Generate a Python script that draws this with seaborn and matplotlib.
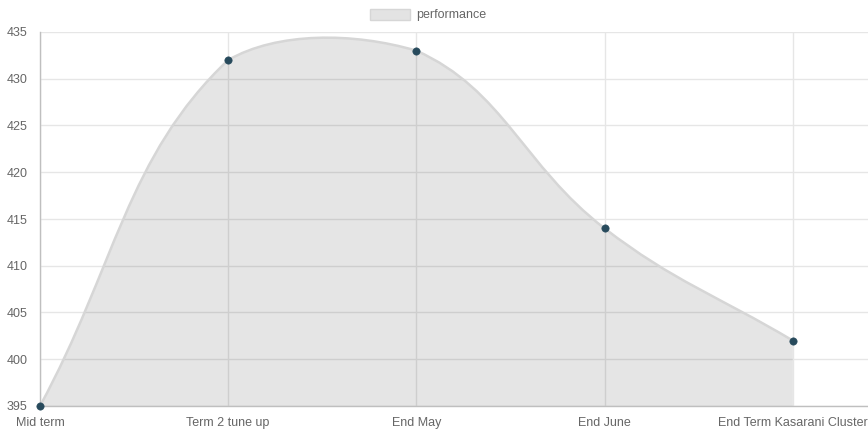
import numpy as np
import matplotlib
matplotlib.use("Agg")
import matplotlib.pyplot as plt
import seaborn as sns
from matplotlib.path import Path
from matplotlib.patches import PathPatch, Patch

labels = ["Mid term", "Term 2 tune up", "End May", "End June", "End Term Kasarani Cluster"]
performance = [395, 432, 433, 414, 402]

sns.set_theme(style="white")
plt.rcParams['font.family'] = ['Liberation Sans', 'DejaVu Sans']

fig = plt.figure(figsize=(8.68, 4.34), dpi=100)
ax = fig.add_axes([40 / 868, 28 / 434, 828 / 868, 374 / 434])

x = np.arange(len(labels), dtype=float)
y = np.array(performance, dtype=float)
ymin, ymax = 395, 435
ax.set_xlim(0, 4.4)
ax.set_ylim(ymin, ymax)

# chart.js style spline (tension 0.4), computed in pixel space, control points kept inside the area
sx, sy = 188.3, 9.35
px, py = x * sx, y * sy
t = 0.4
cps = []
n = len(px)
for i in range(n):
    p0 = (px[max(i - 1, 0)], py[max(i - 1, 0)])
    p1 = (px[i], py[i])
    p2 = (px[min(i + 1, n - 1)], py[min(i + 1, n - 1)])
    d01 = np.hypot(p1[0] - p0[0], p1[1] - p0[1])
    d12 = np.hypot(p2[0] - p1[0], p2[1] - p1[1])
    tot = d01 + d12
    s01 = d01 / tot if tot else 0
    s12 = d12 / tot if tot else 0
    fa, fb = t * s01, t * s12
    prev = (p1[0] - fa * (p2[0] - p0[0]), p1[1] - fa * (p2[1] - p0[1]))
    nxt = (p1[0] + fb * (p2[0] - p0[0]), p1[1] + fb * (p2[1] - p0[1]))
    cps.append((prev, nxt))

def to_data(c):
    return (c[0] / sx, min(max(c[1] / sy, ymin), ymax))

verts = [(x[0], y[0])]
codes = [Path.MOVETO]
for i in range(n - 1):
    verts += [to_data(cps[i][1]), to_data(cps[i + 1][0]), (x[i + 1], y[i + 1])]
    codes += [Path.CURVE4] * 3
line_path = Path(verts, codes)
fill_path = Path(verts + [(x[-1], ymin), (x[0], ymin), (x[0], y[0])],
                 codes + [Path.LINETO, Path.LINETO, Path.CLOSEPOLY])

ax.add_patch(PathPatch(fill_path, facecolor=(0, 0, 0, 0.1), edgecolor='none', zorder=2, clip_on=False))
ax.add_patch(PathPatch(line_path, facecolor='none', edgecolor='#d6d6d6', lw=1.8, zorder=3, clip_on=False))
sns.scatterplot(x=x, y=y, ax=ax, color='#274a5c', s=28, edgecolor='#274a5c', zorder=4, clip_on=False, legend=False)

ax.set_xticks(x)
ax.set_xticklabels(labels)
ax.set_yticks(np.arange(395, 436, 5))
ax.grid(True, color='#e6e6e6', lw=1, zorder=0)
ax.set_axisbelow(True)
ax.tick_params(axis='both', colors='#e0e0e0', labelcolor='#666666', labelsize=9,
               length=8, width=1, direction='out', pad=0)
ax.tick_params(axis='y', length=9, pad=0)
for side in ['top', 'right']:
    ax.spines[side].set_visible(False)
for side in ['left', 'bottom']:
    ax.spines[side].set_color('#bfbfbf')
    ax.spines[side].set_linewidth(1)

handle = Patch(facecolor='#e3e3e3', edgecolor='#d6d6d6', lw=1)
fig.legend([handle], ['performance'], loc='center', bbox_to_anchor=(428 / 868, 1 - 15 / 434),
           frameon=False, fontsize=9, labelcolor='#666666', handlelength=3.2, handleheight=1.0,
           handletextpad=0.5)

fig.savefig("out.png", dpi=100)
